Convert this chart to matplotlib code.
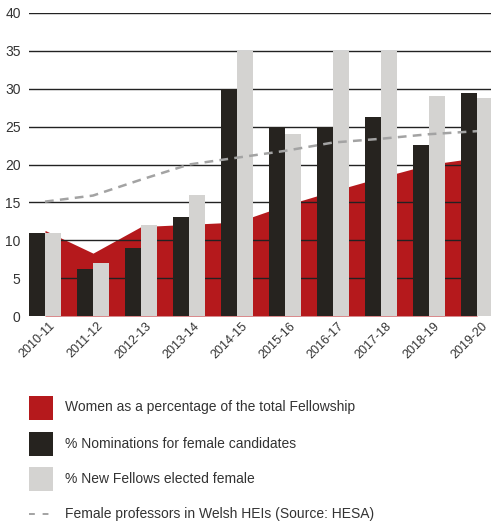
#!/usr/bin/env python
"""
Women in the Fellowship, nominations and new Fellows, 2010-11 to 2019-20.
"""
import numpy as np
import matplotlib
matplotlib.use("Agg")
import matplotlib.pyplot as plt
import matplotlib.transforms as mtrans
from matplotlib.patches import Rectangle
from matplotlib.lines import Line2D

years = ["2010-11", "2011-12", "2012-13", "2013-14", "2014-15",
         "2015-16", "2016-17", "2017-18", "2018-19", "2019-20"]
women_fellowship = [11.3, 8.3, 11.8, 12.1, 12.4, 14.6, 16.5, 18.3, 20.0, 20.9]
nominations = [11.0, 6.2, 9.0, 13.1, 30.0, 25.0, 25.0, 26.3, 22.6, 29.5]
new_fellows = [11.0, 7.0, 12.0, 16.0, 35.0, 24.0, 35.0, 35.0, 29.1, 28.8]
professors = [15.1, 15.9, 18.0, 20.0, 20.9, 21.8, 22.9, 23.4, 24.0, 24.4]

labels = ["Women as a percentage of the total Fellowship",
          "% Nominations for female candidates",
          "% New Fellows elected female",
          "Female professors in Welsh HEIs (Source: HESA)"]

red = "#b5191c"
dark = "#26231f"
light = "#d4d3d1"
dash_grey = "#a3a3a3"
text_col = "#333333"

plt.rcParams['font.family'] = ["Liberation Sans", "DejaVu Sans"]

fig = plt.figure(figsize=(4.91, 5.21), dpi=100)
W, H = 491, 521
ax = fig.add_axes([29 / W, 1 - 316 / H, 462 / W, 303 / H])

x = np.arange(len(years))
bw = 1 / 3

ax.fill_between(x, 0, women_fellowship, color=red, lw=0, zorder=1)
for v in range(5, 45, 5):
    ax.axhline(v, color="#222222", lw=1.0, zorder=2)
ax.bar(x - bw / 2, nominations, bw, color=dark, zorder=3)
ax.bar(x + bw / 2, new_fellows, bw, color=light, zorder=3)
ax.plot(x, professors, color=dash_grey, lw=1.8, dashes=(3.5, 2.5), zorder=4)

ax.set_xlim(-1 / 3, 9.29)
ax.set_ylim(0, 40)
ax.set_yticks(range(0, 45, 5))
ax.set_xticks(x)
ax.set_xticklabels(years, rotation=45, ha="right", rotation_mode="anchor")
ax.tick_params(length=0, labelcolor=text_col)
ax.tick_params(axis="y", pad=6, labelsize=10)
ax.tick_params(axis="x", pad=3, labelsize=9)
for s in ax.spines.values():
    s.set_visible(False)
# nudge the rotated labels so they end near the bar centre
offset = mtrans.ScaledTranslation(4 / 100, 0, fig.dpi_scale_trans)
for lab in ax.get_xticklabels():
    lab.set_transform(lab.get_transform() + offset)

# legend drawn by hand
rows = [407.5, 443.5, 479, 514]
colors = [red, dark, light]
for i, c in enumerate(colors):
    fig.add_artist(Rectangle((29 / W, 1 - (rows[i] + 12) / H), 24 / W, 24 / H,
                             transform=fig.transFigure, color=c, lw=0))
fig.add_artist(Line2D([29 / W, 53 / W], [1 - rows[3] / H] * 2,
                      transform=fig.transFigure, color=dash_grey, lw=1.4,
                      dashes=(3, 4)))
for i, lab in enumerate(labels):
    fig.text(65 / W, 1 - rows[i] / H, lab, fontsize=10, color=text_col,
             va="center", ha="left")

fig.savefig("out.png", dpi=100)
